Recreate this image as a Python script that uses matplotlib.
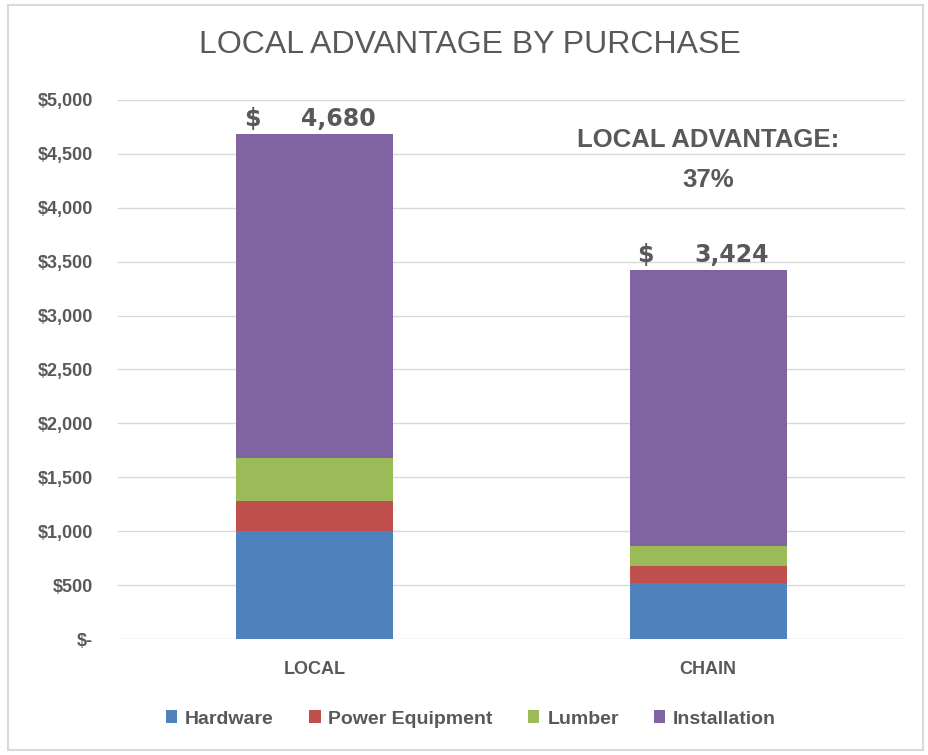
import matplotlib.pyplot as plt
from matplotlib.patches import Rectangle
from matplotlib.ticker import FuncFormatter
import numpy as np

# data
stores = ["LOCAL", "CHAIN"]
series = ["Hardware", "Power Equipment", "Lumber", "Installation"]
hardware = [1000, 522]
power_equipment = [278, 158]
lumber = [401, 185]
installation = [3001, 2559]
totals = [4680, 3424]
advantage = "37%"

colors = ["#4f81bd", "#c0504d", "#9bbb59", "#8064a2"]
grey = "#595959"
font = ["Liberation Sans", "DejaVu Sans"]

fig = plt.figure(figsize=(9.29, 7.55), dpi=100)
ax = fig.add_axes([118 / 929, 1 - 639 / 755, 787 / 929, 539 / 755])

x = np.arange(len(stores))
bottom = np.zeros(len(stores))
for name, vals, c in zip(series, [hardware, power_equipment, lumber, installation], colors):
    ax.bar(x, vals, 0.4, bottom=bottom, color=c, label=name, zorder=3)
    bottom += np.array(vals)

ax.set_xlim(-0.5, 1.5)
ax.set_ylim(0, 5000)
ax.set_yticks(range(0, 5001, 500))
ax.yaxis.set_major_formatter(FuncFormatter(lambda v, p: "$-" if v == 0 else f"${v:,.0f}"))
ax.set_xticks(x)
ax.set_xticklabels(stores)
ax.grid(axis="y", color="#d9d9d9", linewidth=1, zorder=0)
for s in ax.spines.values():
    s.set_visible(False)
ax.tick_params(length=0, colors=grey, labelsize=13)
ax.tick_params(axis="y", pad=18)
ax.tick_params(axis="x", pad=16)
for lab in ax.get_xticklabels() + ax.get_yticklabels():
    lab.set_family(font)
    lab.set_fontweight("bold")

# totals above bars
for xi, t in zip(x, totals):
    ax.text(xi - 0.18, t + 30, "$", ha="left", va="bottom", fontsize=17, fontweight="bold", color=grey)
    ax.text(xi + 0.155, t + 30, f"{t:,}", ha="right", va="bottom", fontsize=17, fontweight="bold", color=grey)

ax.text(1, 4629, "LOCAL ADVANTAGE:", ha="center", va="center", fontsize=18.5, fontweight="bold",
        color=grey, family=font)
ax.text(1, 4258, advantage, ha="center", va="center", fontsize=18.5, fontweight="bold",
        color=grey, family=font)

fig.text(470 / 929, 1 - 45 / 755, "LOCAL ADVANTAGE BY PURCHASE", ha="center", va="center",
         fontsize=23, color=grey, family=font)

leg = fig.legend(loc="center", bbox_to_anchor=(471 / 929, 1 - 719 / 755), ncol=4, frameon=False,
                 handlelength=0.6, handleheight=0.6, handletextpad=0.4, columnspacing=1.8,
                 prop={"family": font, "size": 14, "weight": "bold"})
for t in leg.get_texts():
    t.set_color(grey)

fig.patches.append(Rectangle((8 / 929, 5 / 755), 915 / 929, 745 / 755, transform=fig.transFigure,
                             fill=False, edgecolor="#d9d9d9", linewidth=1.5))

fig.savefig("out.png", dpi=100)
